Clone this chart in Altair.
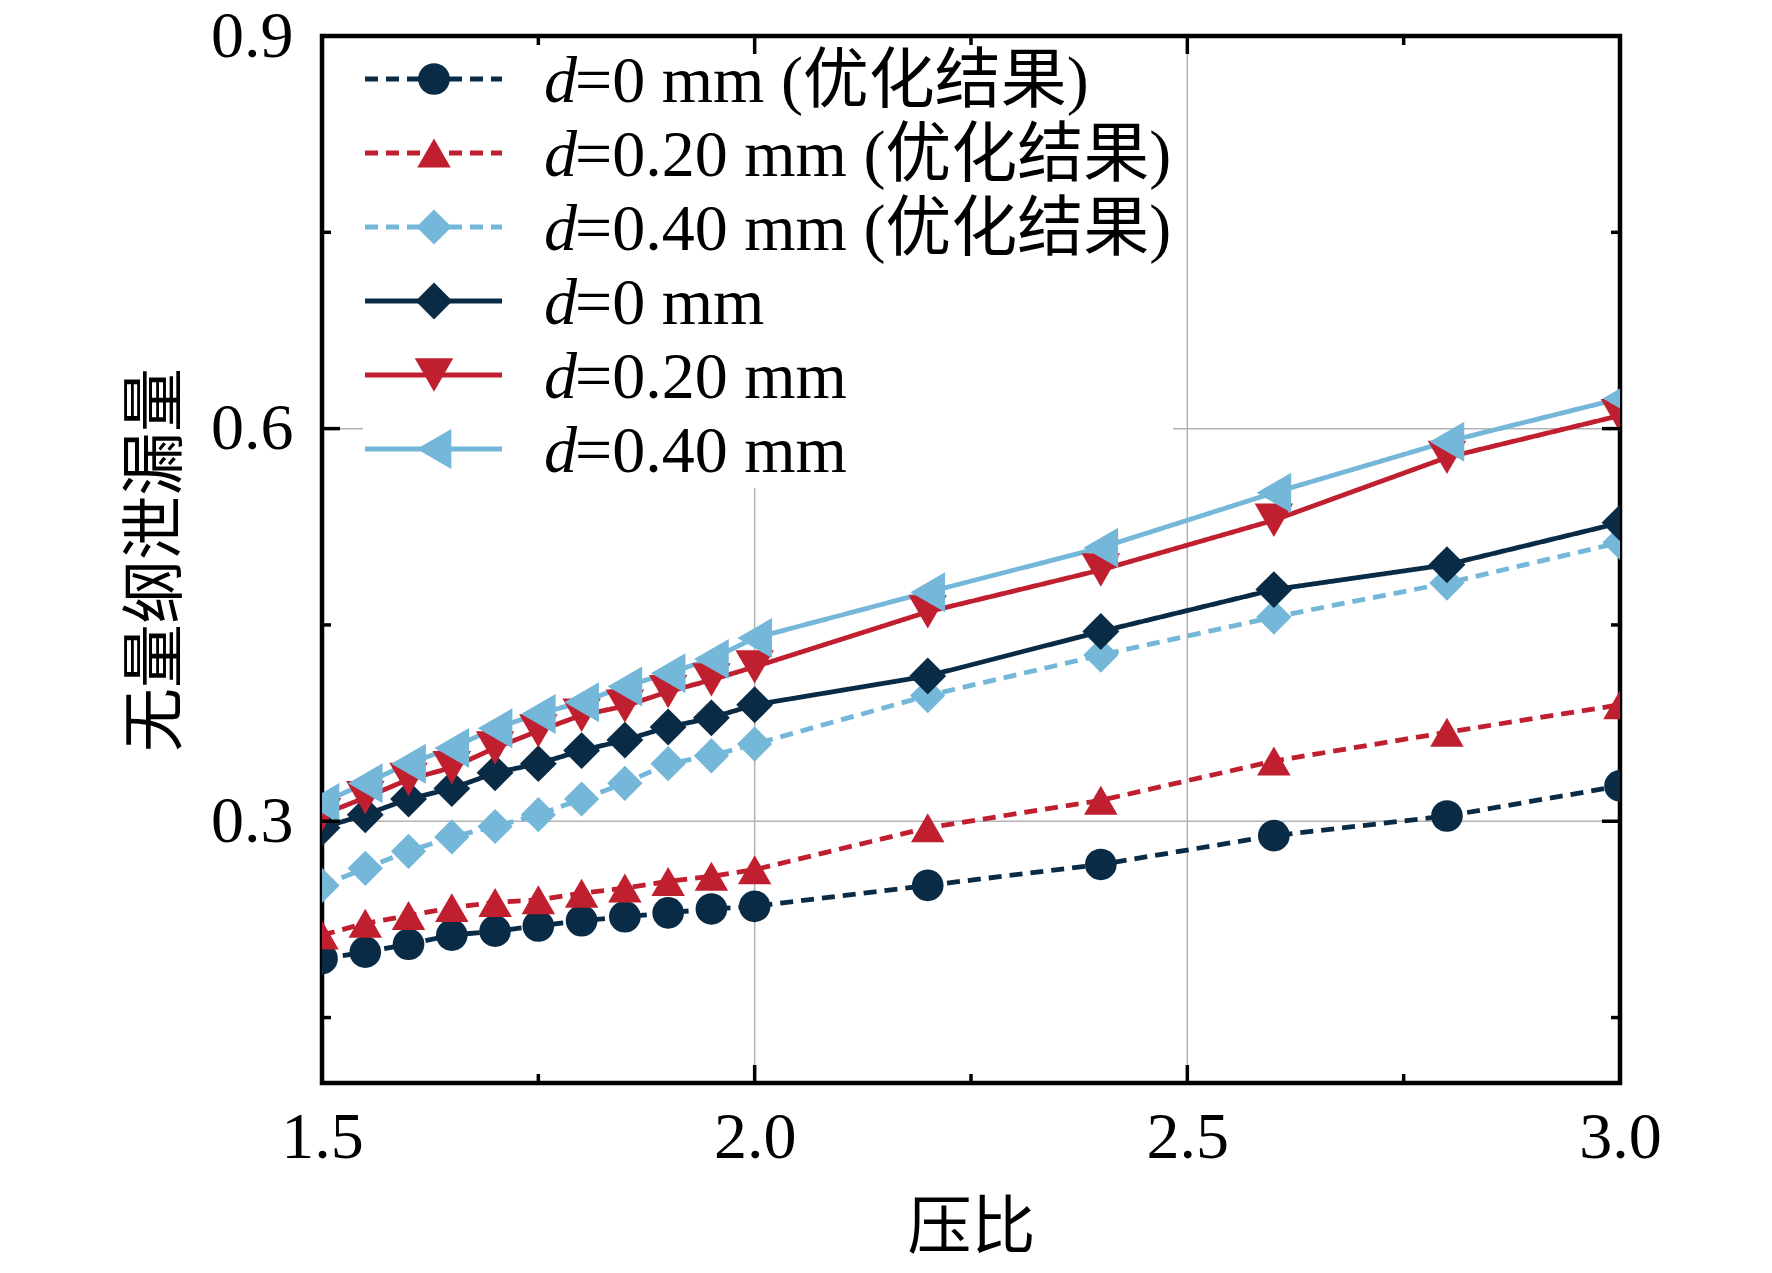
import altair as alt
import pandas as pd

# ---------------- data ----------------
pressure_ratio = [1.5, 1.55, 1.6, 1.65, 1.7, 1.75, 1.8, 1.85, 1.9, 1.95, 2.0, 2.2, 2.4, 2.6, 2.8, 3.0]

leak_d0_opt = [0.195, 0.200, 0.206, 0.213, 0.216, 0.220, 0.224, 0.227, 0.230, 0.233, 0.235, 0.251, 0.267, 0.289, 0.304, 0.327]
leak_d20_opt = [0.213, 0.222, 0.228, 0.234, 0.238, 0.240, 0.245, 0.249, 0.254, 0.258, 0.263, 0.295, 0.316, 0.346, 0.368, 0.389]
leak_d40_opt = [0.251, 0.264, 0.277, 0.288, 0.296, 0.305, 0.317, 0.329, 0.344, 0.350, 0.359, 0.396, 0.427, 0.456, 0.482, 0.513]
leak_d0 = [0.295, 0.305, 0.317, 0.325, 0.337, 0.344, 0.354, 0.362, 0.372, 0.379, 0.389, 0.411, 0.445, 0.477, 0.496, 0.528]
leak_d20 = [0.305, 0.318, 0.332, 0.341, 0.356, 0.369, 0.381, 0.388, 0.399, 0.408, 0.418, 0.460, 0.492, 0.530, 0.578, 0.610]
leak_d40 = [0.314, 0.329, 0.344, 0.356, 0.371, 0.382, 0.391, 0.403, 0.413, 0.424, 0.440, 0.475, 0.509, 0.551, 0.590, 0.623]

series_names = ["d0_opt", "d20_opt", "d40_opt", "d0", "d20", "d40"]
series_values = [leak_d0_opt, leak_d20_opt, leak_d40_opt, leak_d0, leak_d20, leak_d40]
legend_rest = ["=0 mm (优化结果)", "=0.20 mm (优化结果)", "=0.40 mm (优化结果)",
               "=0 mm", "=0.20 mm", "=0.40 mm"]

series_colors = ["#0a2b45", "#c01f2f", "#74b7d9", "#0a2b45", "#c01f2f", "#74b7d9"]
series_shapes = ["circle", "triangle-up", "diamond", "diamond", "triangle-down", "triangle-left"]
series_dashes = [[13, 8], [13, 8], [13, 8], [1, 0], [1, 0], [1, 0]]
series_sizes = [1000, 1600, 1400, 1400, 1600, 1600]

x_major = [1.5, 2.0, 2.5, 3.0]
x_minor = [1.75, 2.25, 2.75]
y_major = [0.3, 0.6, 0.9]
y_minor = [0.15, 0.45, 0.75]
x_grid = [2.0, 2.5]
y_grid = [0.3, 0.6]

x_title = "压比"
y_title = "无量纲泄漏量"

# ---------------- build tables ----------------
rows = []
for name, vals in zip(series_names, series_values):
    for xv, yv in zip(pressure_ratio, vals):
        rows.append({"x": xv, "y": yv, "series": name})
df = pd.DataFrame(rows)

W, H = 1298, 1047
SERIF = "Liberation Serif, Times New Roman, Noto Sans CJK SC"
CJK = "Noto Sans CJK SC"

legend_df = pd.DataFrame({
    "series": series_names,
    "rest": legend_rest,
    "ly": [43 + 74 * i for i in range(len(series_names))],
})
legend_df["ty"] = legend_df["ly"] + 3

xs = alt.Scale(domain=[1.5, 3.0], nice=False, zero=False)
ys = alt.Scale(domain=[0.1, 0.9], nice=False, zero=False)
color_scale = alt.Scale(domain=series_names, range=series_colors)
shape_scale = alt.Scale(domain=series_names, range=series_shapes)
dash_scale = alt.Scale(domain=series_names, range=series_dashes)
size_scale = alt.Scale(domain=series_names, range=series_sizes)

x_axis = alt.Axis(values=x_major, format=".1f", grid=False, ticks=False, tickSize=0,
                  domain=False, labelFontSize=66, labelFont=SERIF, labelColor="black",
                  labelPadding=22, labelFlush=False, title=x_title, titleFontSize=64,
                  titleFont=CJK, titleFontWeight="normal", titleColor="black",
                  titlePadding=26)
y_axis = alt.Axis(values=y_major, format=".1f", grid=False, ticks=False, tickSize=0,
                  domain=False, labelFontSize=66, labelFont=SERIF, labelColor="black",
                  labelPadding=29, labelFlush=False, title=y_title, titleFontSize=64,
                  titleFont=CJK, titleFontWeight="normal", titleColor="black",
                  titlePadding=22)

# grid
vgrid = alt.Chart(pd.DataFrame({"gx": x_grid})).mark_rule(color="#b3b3b3", strokeWidth=1.5).encode(
    x=alt.X("gx:Q", scale=xs, axis=x_axis))
hgrid = alt.Chart(pd.DataFrame({"gy": y_grid})).mark_rule(color="#b3b3b3", strokeWidth=1.5).encode(
    y=alt.Y("gy:Q", scale=ys, axis=y_axis))

# white legend background
legend_bg = alt.Chart(pd.DataFrame({"a": [0]})).mark_rect(color="white").encode(
    x=alt.value(41), x2=alt.value(851), y=alt.value(4), y2=alt.value(452))

# data
lines = alt.Chart(df).mark_line(strokeWidth=4.8, clip=True).encode(
    x=alt.X("x:Q", scale=xs, axis=x_axis),
    y=alt.Y("y:Q", scale=ys, axis=y_axis),
    color=alt.Color("series:N", scale=color_scale, legend=None),
    strokeDash=alt.StrokeDash("series:N", scale=dash_scale, legend=None),
)
points = alt.Chart(df).mark_point(filled=True, opacity=1, strokeWidth=0, clip=True).encode(
    x=alt.X("x:Q", scale=xs, axis=x_axis),
    y=alt.Y("y:Q", scale=ys, axis=y_axis),
    color=alt.Color("series:N", scale=color_scale, legend=None),
    shape=alt.Shape("series:N", scale=shape_scale, legend=None),
    size=alt.Size("series:N", scale=size_scale, legend=None),
)

# inward ticks on all four sides
def xticks(vals, length, top):
    y0 = 0 if top else H
    y1 = length if top else H - length
    return alt.Chart(pd.DataFrame({"tx": vals})).mark_rule(color="black", strokeWidth=3.5).encode(
        x=alt.X("tx:Q", scale=xs, axis=x_axis), y=alt.value(y0), y2=alt.value(y1))

def yticks(vals, length, right):
    x0 = W if right else 0
    x1 = W - length if right else length
    return alt.Chart(pd.DataFrame({"tyv": vals})).mark_rule(color="black", strokeWidth=3.5).encode(
        y=alt.Y("tyv:Q", scale=ys, axis=y_axis), x=alt.value(x0), x2=alt.value(x1))

ticks = [
    xticks(x_major, 18, False), xticks(x_minor, 9, False),
    xticks(x_major, 18, True), xticks(x_minor, 9, True),
    yticks(y_major, 18, False), yticks(y_minor, 9, False),
    yticks(y_major, 18, True), yticks(y_minor, 9, True),
]

# legend
leg = alt.Chart(legend_df)
leg_lines = leg.mark_rule(strokeWidth=4.8).encode(
    x=alt.value(43), x2=alt.value(180),
    y=alt.Y("ly:Q", scale=None, axis=None),
    color=alt.Color("series:N", scale=color_scale, legend=None),
    strokeDash=alt.StrokeDash("series:N", scale=dash_scale, legend=None),
)
leg_points = leg.mark_point(filled=True, opacity=1, strokeWidth=0).encode(
    x=alt.value(112),
    y=alt.Y("ly:Q", scale=None, axis=None),
    color=alt.Color("series:N", scale=color_scale, legend=None),
    shape=alt.Shape("series:N", scale=shape_scale, legend=None),
    size=alt.Size("series:N", scale=size_scale, legend=None),
)
leg_d = leg.mark_text(align="left", baseline="middle", fontSize=66, font=SERIF,
                      fontStyle="italic", color="black").encode(
    x=alt.value(222), y=alt.Y("ty:Q", scale=None, axis=None), text=alt.value("d"))
leg_rest = leg.mark_text(align="left", baseline="middle", fontSize=66, font=SERIF,
                         color="black").encode(
    x=alt.value(253), y=alt.Y("ty:Q", scale=None, axis=None), text="rest:N")

chart = alt.layer(
    vgrid, hgrid, legend_bg, lines, points, *ticks,
    leg_lines, leg_points, leg_d, leg_rest,
).properties(
    width=W, height=H,
    autosize=alt.AutoSizeParams(type="none"),
    padding={"left": 314, "top": 28, "right": 144, "bottom": 189},
    background="white",
).configure_view(stroke="black", strokeWidth=4.5)

chart.save("out.html", embed_options={"renderer": "svg", "actions": False})
